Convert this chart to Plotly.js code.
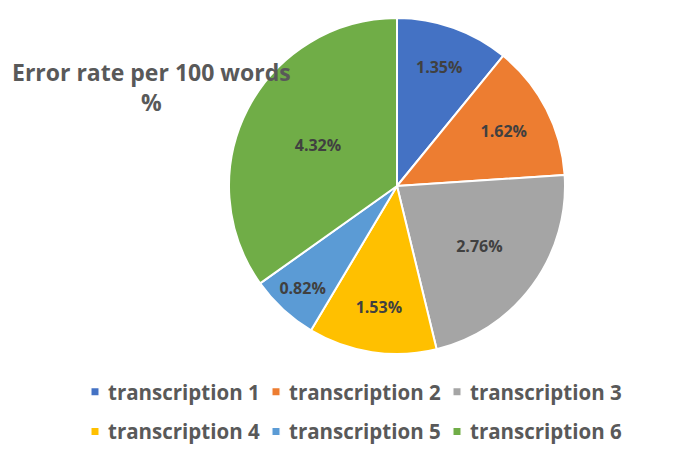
<!DOCTYPE html>
<html>
<head>
<meta charset="utf-8">
<script src="https://cdn.plot.ly/plotly-3.0.1.min.js"></script>
<style>html,body{margin:0;padding:0;background:#fff;}#chart{width:680px;height:453px;}</style>
</head>
<body>
<div id="chart"></div>
<script>
const categories = ["transcription 1","transcription 2","transcription 3","transcription 4","transcription 5","transcription 6"];
const values = [1.35, 1.62, 2.76, 1.53, 0.82, 4.32];
const valueLabels = ["1.35%","1.62%","2.76%","1.53%","0.82%","4.32%"];
const colors = ["#4472C4","#ED7D31","#A5A5A5","#FFC000","#5B9BD5","#70AD47"];
const titleText = "Error rate per 100 words<br>%";

const W = 680, H = 453;
const trace = {
  type: "pie",
  labels: categories,
  values: values,
  text: valueLabels,
  textinfo: "text",
  textposition: "inside",
  insidetextorientation: "horizontal",
  sort: false,
  direction: "clockwise",
  rotation: 0,
  marker: {colors: colors, line: {color: "#ffffff", width: 2}},
  textfont: {family: "Open Sans", size: 16, color: "#404040", weight: "bold"},
  domain: {x: [229/W, 565/W], y: [1 - 355/H, 1 - 17/H]},
  hoverinfo: "none"
};
const layout = {
  width: W, height: H,
  margin: {l: 0, r: 0, t: 0, b: 0},
  paper_bgcolor: "#ffffff",
  showlegend: true,
  legend: {
    orientation: "h",
    x: 68/W, xanchor: "left",
    y: 1 - 372/H, yanchor: "top",
    entrywidth: 136,
    entrywidthmode: "pixels",
    itemwidth: 30,
    tracegroupgap: 0,
    font: {family: "Open Sans", size: 20.5, color: "#595959", weight: "bold"}
  },
  annotations: [{
    text: titleText,
    xref: "paper", yref: "paper",
    x: 151/W, y: 1 - 54/H, xanchor: "center", yanchor: "top",
    showarrow: false, align: "center",
    font: {family: "Open Sans", size: 23, color: "#595959", weight: "bold"}
  }]
};
Plotly.newPlot("chart", [trace], layout, {displayModeBar: false, staticPlot: true}).then(function(){
  document.querySelectorAll(".legendpoints path").forEach(function(p){
    p.setAttribute("transform", "translate(27,0) scale(0.7)");
  });
  const sb = document.querySelector(".legend .scrollbox");
  if (sb) sb.removeAttribute("clip-path");
  const items = Array.from(document.querySelectorAll(".legend .traces"));
  let firstY = null;
  items.forEach(function(g){
    const m = /translate\(\s*([-\d.]+)[ ,]+([-\d.]+)\s*\)/.exec(g.getAttribute("transform") || "");
    if (!m) return;
    const x = parseFloat(m[1]), y = parseFloat(m[2]);
    if (firstY === null) firstY = y;
    if (y > firstY + 1) g.setAttribute("transform", "translate(" + x + "," + (y + 10) + ")");
  });
});
</script>
</body>
</html>
